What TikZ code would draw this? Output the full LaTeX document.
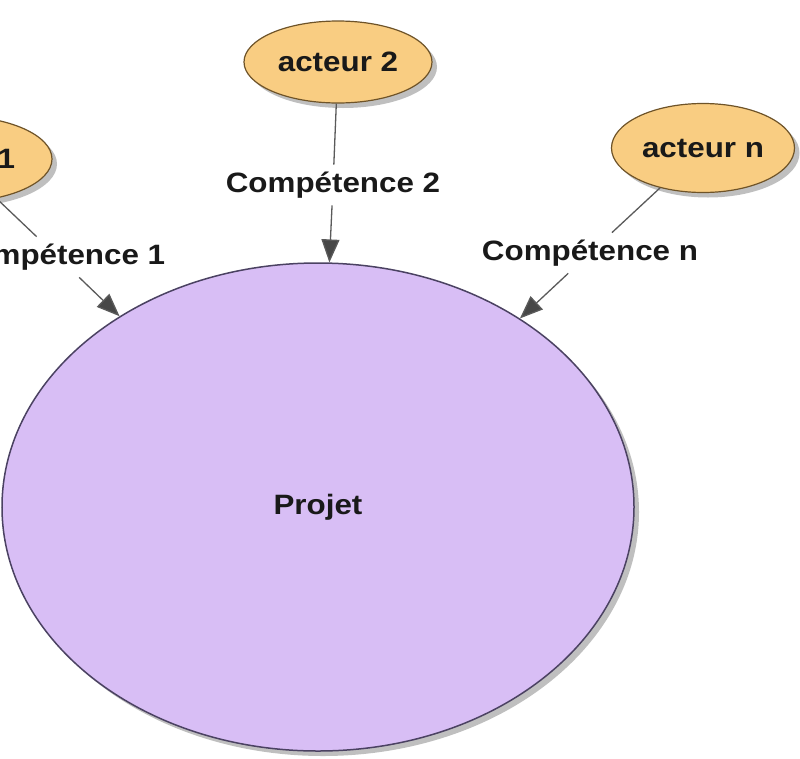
\documentclass[tikz,border=0pt]{standalone}
\usepackage{fontspec}
\setmainfont{Liberation Sans}[FakeStretch=1.12]
\usetikzlibrary{shapes.geometric}
\usetikzlibrary{shadows}
\usetikzlibrary{arrows.meta}
\definecolor{acteurfill}{HTML}{F9CD82}
\definecolor{acteurdraw}{HTML}{6E5328}
\definecolor{projetfill}{HTML}{D8BEF5}
\definecolor{projetdraw}{HTML}{4B4262}
\definecolor{liencolor}{HTML}{5A5A5A}

\begin{document}
\begin{tikzpicture}[x=1pt, y=-1pt,
    every node/.style={font=\bfseries\fontsize{28}{32}\selectfont, text=black!90},
    acteur/.style={ellipse, draw=acteurdraw, line width=1.2pt, fill=acteurfill, inner sep=0pt,
        drop shadow={shadow xshift=5pt, shadow yshift=-5pt, fill=black!50, opacity=0.5}},
    projet/.style={ellipse, draw=projetdraw, line width=1.5pt, fill=projetfill, inner sep=0pt,
        minimum width=632pt, minimum height=488pt,
        drop shadow={shadow xshift=5pt, shadow yshift=-5pt, fill=black!50, opacity=0.5}},
    competence/.style={inner sep=7pt},
    lien/.style={draw=liencolor, line width=1.3pt},
    fleche/.style={lien, -{Triangle[length=23pt, width=18pt, fill=black!72]}}]
    \useasboundingbox (0,0) rectangle (800,758);
    \clip (0,0) rectangle (800,758);
    \node[projet] (P) at (318,507) {Projet};
    \node[acteur, minimum width=194pt, minimum height=86pt] (A1) at (-45,159) {acteur 1};
    \node[acteur, minimum width=188pt, minimum height=82pt] (A2) at (338,62) {acteur 2};
    \node[acteur, minimum width=183pt, minimum height=89pt] (An) at (703,148) {acteur n};
    \node[competence] (C1) at (58,257) {Compétence 1};
    \node[competence] (C2) at (333,185) {Compétence 2};
    \node[competence] (Cn) at (590,253) {Compétence n};
    \draw[lien] (A1) -- (C1);
    \draw[fleche] (C1) -- (P);
    \draw[lien] (A2) -- (C2);
    \draw[fleche] (C2) -- (P);
    \draw[lien] (An) -- (Cn);
    \draw[fleche] (Cn) -- (P);
\end{tikzpicture}
\end{document}
